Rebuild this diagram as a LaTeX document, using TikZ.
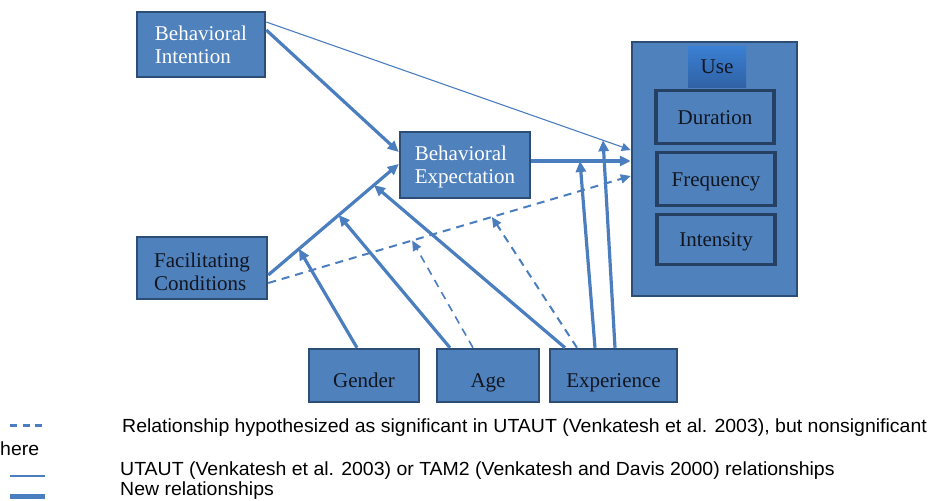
\documentclass[tikz,border=0pt]{standalone}
\usepackage{fontspec}
\setmainfont{Liberation Serif}
\newfontfamily\legendfont{Liberation Sans}
\usetikzlibrary{arrows.meta,calc}
\definecolor{boxfill}{RGB}{79,129,189}
\definecolor{boxedge}{RGB}{44,77,117}
\definecolor{inneredge}{RGB}{38,64,100}
\definecolor{arr}{RGB}{74,126,190}
\definecolor{dtext}{RGB}{18,22,32}
\definecolor{usetop}{RGB}{58,128,212}
\definecolor{usebot}{RGB}{48,98,165}
\newcommand{\legtxt}[1]{\scalebox{1.025}[1]{#1}}
\begin{document}
\begin{tikzpicture}[x=1pt,y=-1pt,
  box/.style={draw=boxedge, fill=boxfill, line width=2.5pt, inner sep=0pt,
    font=\fontsize{21}{23}\selectfont, align=left, text=dtext},
  wbox/.style={box, text=white},
  lowbox/.style={box, text height=26pt, text depth=3pt},
  ibox/.style={box, draw=inneredge, line width=3.5pt, minimum width=118pt, text height=14pt, text depth=0pt},
  thk/.style={draw=arr, line width=3.2pt, -{Triangle[length=11pt,width=10pt]}},
  thn/.style={draw=arr, line width=1.1pt, -{Triangle[length=9pt,width=8pt]}},
  dsh/.style={draw=arr, line width=2pt, dash pattern=on 8pt off 6pt, -{Triangle[length=10pt,width=9pt]}},
  legend/.style={font=\legendfont\fontsize{19}{21}\selectfont, inner sep=0pt, text=black}
]
\useasboundingbox (0,0) rectangle (930,501);

% boxes
\node[wbox, minimum width=128pt, minimum height=65pt] (BI) at (201,44.5) {Behavioral\\Intention};
\node[wbox, minimum width=130pt, minimum height=66pt, text depth=0pt] (BE) at (465,165) {Behavioral\\Expectation};
\node[box, minimum width=130pt, minimum height=62pt, text height=44pt, text depth=0pt] (FC) at (202,268) {Facilitating\\Conditions};
\node[box, minimum width=165pt, minimum height=254pt] (Use) at (714.5,169) {};
\node[inner sep=0pt, minimum width=58pt, minimum height=41pt, top color=usetop, bottom color=usebot,
  font=\fontsize{21}{23}\selectfont, text=dtext, text height=14pt, text depth=0pt] (UseL) at (717,66.5) {Use};
\node[ibox, minimum height=53pt] (Dur) at (715,117) {Duration};
\node[ibox, minimum height=53pt] (Freq) at (716,179) {Frequency};
\node[ibox, minimum height=50pt] (Int) at (716,239.5) {Intensity};
\node[lowbox, minimum width=110pt, minimum height=53pt] (Gen) at (364,375.5) {Gender};
\node[lowbox, minimum width=102pt, minimum height=53pt] (Age) at (488,375.5) {Age};
\node[lowbox, minimum width=127pt, minimum height=53pt] (Exp) at (613.5,375.5) {Experience};

% main connectors
\coordinate (BIa) at ([yshift=22.5pt]BI.east);
\coordinate (BIb) at ([yshift=14.5pt]BI.east);
\coordinate (FCa) at ([yshift=-7pt]FC.east);
\coordinate (FCb) at ([yshift=-15pt]FC.east);
\coordinate (BEin1) at ([yshift=13pt]BE.west);
\coordinate (BEin2) at ([yshift=1pt]BE.west);
\coordinate (BEout) at ([yshift=4pt]BE.east);
\coordinate (Uin1) at ([yshift=19pt]Use.west);
\coordinate (Uin2) at ([yshift=8pt]Use.west);
\coordinate (Uin3) at ([yshift=-7pt]Use.west);

\draw[thn] (BIa) -- (Uin1);
\draw[thk] (BIb) -- (BEin1);
\draw[thk] (FCa) -- (BEin2);
\draw[dsh] (FCb) -- (Uin3);
\draw[thk] (BEout) -- (Uin2);

% points on lines
\path (FCa) -- (BEin2) coordinate[pos=0.235] (m1) coordinate[pos=0.54] (m2) coordinate[pos=0.81] (m3);
\path (FCb) -- (Uin3) coordinate[pos=0.397] (d1) coordinate[pos=0.617] (d2);
\path (BEout) -- (Uin2) coordinate[pos=0.49] (h1);
\path (BIa) -- (Uin1) coordinate[pos=0.924] (t1);

% moderators
\draw[thk] ([xshift=-7pt]Gen.north) -- (m1);
\draw[thk] ([xshift=-38pt]Age.north) -- (m2);
\draw[dsh, line width=1.6pt] ([xshift=-15pt]Age.north) -- (d1);
\draw[thk] ([xshift=-48.5pt]Exp.north) -- (m3);
\draw[dsh] ([xshift=-36.5pt]Exp.north) -- (d2);
\draw[thk] ([xshift=-18.5pt]Exp.north) -- (h1);
\draw[thk] ([xshift=1.5pt]Exp.north) -- (t1);

% legend
\coordinate (k1a) at (10,425.5); \coordinate (k1b) at (47,425.5);
\coordinate (k2a) at (10,476); \coordinate (k2b) at (45,476);
\coordinate (k3a) at (10,496.5); \coordinate (k3b) at (45,496.5);
\draw[draw=arr, line width=2.2pt, dash pattern=on 7pt off 5.5pt] (k1a) -- (k1b);
\draw[draw=arr, line width=2pt] (k2a) -- (k2b);
\draw[draw=arr, line width=4.5pt] (k3a) -- (k3b);
\node[legend, anchor=base west] (L1) at (122,432.7) {\legtxt{Relationship hypothesized as significant in UTAUT (Venkatesh et al. 2003), but nonsignificant}};
\node[legend, anchor=base west] (L1b) at (0,455) {\legtxt{here}};
\node[legend, anchor=base west] (L2) at (120,475.7) {\legtxt{UTAUT (Venkatesh et al. 2003) or TAM2 (Venkatesh and Davis 2000) relationships}};
\node[legend, anchor=base west] (L3) at (120,495) {\legtxt{New relationships}};
\end{tikzpicture}
\end{document}
